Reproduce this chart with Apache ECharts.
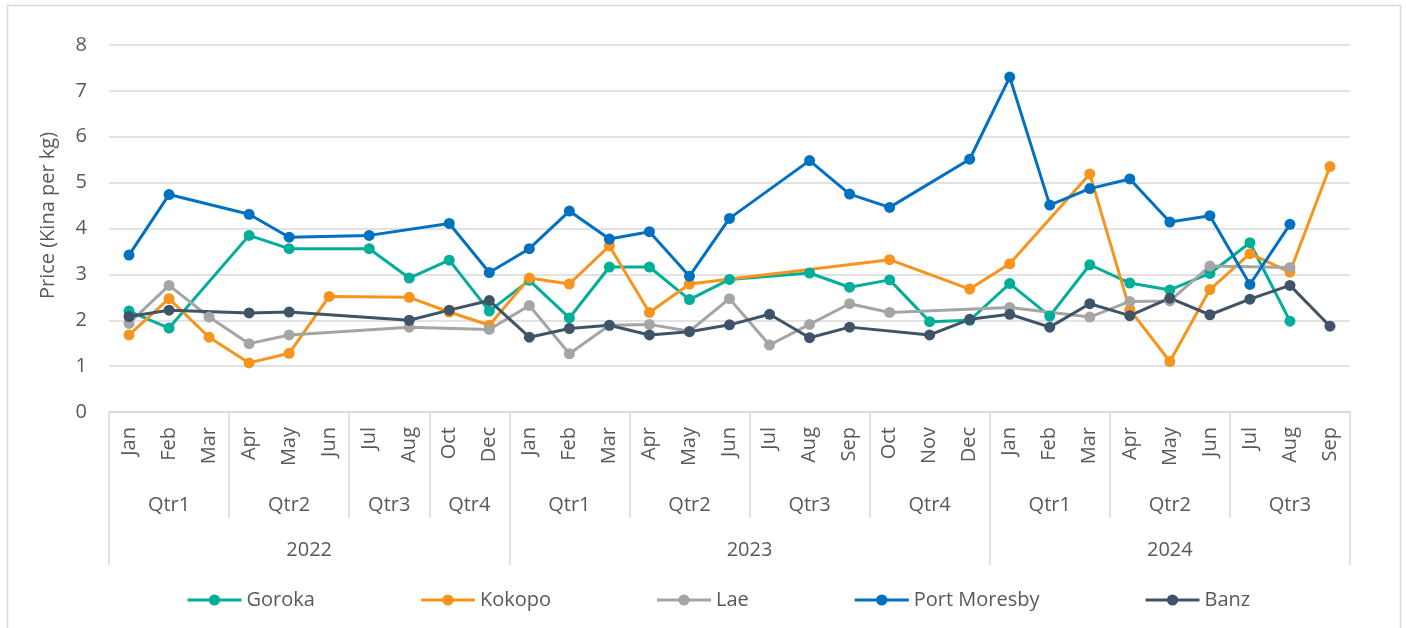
<!DOCTYPE html>
<html><head><meta charset="utf-8">
<script src="https://cdn.jsdelivr.net/npm/echarts@6/dist/echarts.min.js"></script>
<style>html,body{margin:0;padding:0;background:#fff}#c{width:1406px;height:628px}</style>
</head><body><div id="c"></div>
<script>
const months = ['Jan','Feb','Mar','Apr','May','Jun','Jul','Aug','Oct','Dec',
  'Jan','Feb','Mar','Apr','May','Jun','Jul','Aug','Sep','Oct','Nov','Dec',
  'Jan','Feb','Mar','Apr','May','Jun','Jul','Aug','Sep'];
const quarterLabels = ['Qtr1','Qtr2','Qtr3','Qtr4','Qtr1','Qtr2','Qtr3','Qtr4','Qtr1','Qtr2','Qtr3'];
const quarterSpans = [3,3,2,2,3,3,3,3,3,3,3];
const yearLabels = ['2022','2023','2024'];
const yearSpans = [10,12,9];
const yTicks = [0,1,2,3,4,5,6,7,8];

const goroka = [2.20,1.83,null,3.85,3.56,null,3.56,2.92,3.31,2.20,
  2.87,2.05,3.16,3.16,2.45,2.89,null,3.03,2.72,2.88,1.97,2.00,
  2.80,2.09,3.21,2.81,2.66,3.02,3.69,1.98,null];
const kokopo = [1.68,2.47,1.63,1.07,1.28,2.52,null,2.50,2.18,1.89,
  2.92,2.79,3.62,2.17,2.79,null,null,null,null,3.32,null,2.68,
  3.23,null,5.19,2.23,1.10,2.67,3.45,3.05,5.35];
const lae = [1.93,2.76,2.07,1.49,1.68,null,null,1.85,null,1.80,
  2.32,1.27,1.89,1.91,1.76,2.47,1.46,1.91,2.36,2.17,null,null,
  2.28,null,2.07,2.41,2.42,3.18,null,3.15,null];
const portMoresby = [3.42,4.74,null,4.31,3.81,null,3.85,null,4.11,3.04,
  3.56,4.38,3.77,3.93,2.96,4.22,null,5.48,4.75,4.46,null,5.51,
  7.30,4.51,4.87,5.08,4.14,4.28,2.78,4.09,null];
const banz = [2.08,2.22,null,2.16,2.18,null,null,2.00,2.22,2.43,
  1.63,1.82,1.89,1.68,1.75,1.90,2.13,1.62,1.85,null,1.68,2.02,
  2.13,1.85,2.36,2.10,2.48,2.12,2.46,2.76,1.87];

function groups(spans, labels){
  const starts = [], centers = {};
  let acc = 0;
  spans.forEach((s,i)=>{ starts.push(acc); centers[(acc + s/2).toFixed(1)] = labels[i]; acc += s; });
  return {starts, centers};
}
const qg = groups(quarterSpans, quarterLabels);
const yg = groups(yearSpans, yearLabels);

const TXT = '#595959', GRID = '#d9d9d9', FONT = 'Open Sans';
const base = {fontFamily: FONT, color: TXT, fontSize: 20};

function sepAxis(starts, len){
  return {type:'category', data: months, gridIndex:0, position:'bottom', offset:0,
    axisLine:{show:false}, axisLabel:{show:false}, splitLine:{show:false},
    axisTick:{show:true, length:len, interval:(i)=>starts.indexOf(i)>=0,
      lineStyle:{color:GRID, width:1.5}}};
}
function labelAxis(centers, offset){
  return {type:'value', min:0, max:months.length, interval:0.5, position:'bottom', offset:offset,
    axisLine:{show:false}, axisTick:{show:false}, splitLine:{show:false},
    axisLabel:Object.assign({}, base, {margin:8, showMinLabel:true, showMaxLabel:true,
      formatter:(v)=>centers[Number(v).toFixed(1)] || ''})};
}

const colors = ['#00ae9a','#f7941d','#a5a5a5','#0070c0','#3f5468'];
const names = ['Goroka','Kokopo','Lae','Port Moresby','Banz'];
const datas = [goroka, kokopo, lae, portMoresby, banz];

const chart = echarts.init(document.getElementById('c'));
chart.setOption({
  animation:false,
  backgroundColor:'#fff',
  color: colors,
  textStyle:{fontFamily:FONT},
  graphic:[{type:'rect', shape:{x:7.5,y:5.5,width:1393,height:660}, style:{fill:'none', stroke:GRID, lineWidth:1.5}, silent:true, z:-1}],
  grid:{left:109, right:56, top:45, bottom:216, outerBoundsMode:'none', containLabel:false},
  legend:{data:names, left:181, top:585, itemWidth:54, itemHeight:14, itemGap:104.5,
    lineStyle:{width:3},
    textStyle:Object.assign({}, base, {padding:[0,0,0,0]})},
  xAxis:[
    {type:'category', data:months, position:'bottom', boundaryGap:true,
      axisLine:{show:true, lineStyle:{color:GRID, width:1.5}}, axisTick:{show:false},
      axisLabel:Object.assign({}, base, {rotate:90, margin:15, interval:0})},
    sepAxis(qg.starts, 106),
    sepAxis(yg.starts, 153),
    labelAxis(qg.centers, 75),
    labelAxis(yg.centers, 120)
  ],
  yAxis:{type:'value', min:yTicks[0], max:yTicks[yTicks.length-1], interval:1,
    name:'Price (Kina per kg)', nameLocation:'middle', nameGap:51, nameRotate:90,
    nameTextStyle:Object.assign({}, base, {padding:[0,0,0,26]}),
    axisLine:{show:false}, axisTick:{show:false},
    axisLabel:Object.assign({}, base, {margin:22}),
    splitLine:{lineStyle:{color:GRID, width:1.5}}},
  series: datas.map((d,i)=>({
    name:names[i], type:'line', data:d, xAxisIndex:0, connectNulls:true,
    symbol:'circle', symbolSize:11, showAllSymbol:true,
    lineStyle:{width:3, color:colors[i]}, itemStyle:{color:colors[i]},
    emphasis:{disabled:true}
  }))
});
</script></body></html>
